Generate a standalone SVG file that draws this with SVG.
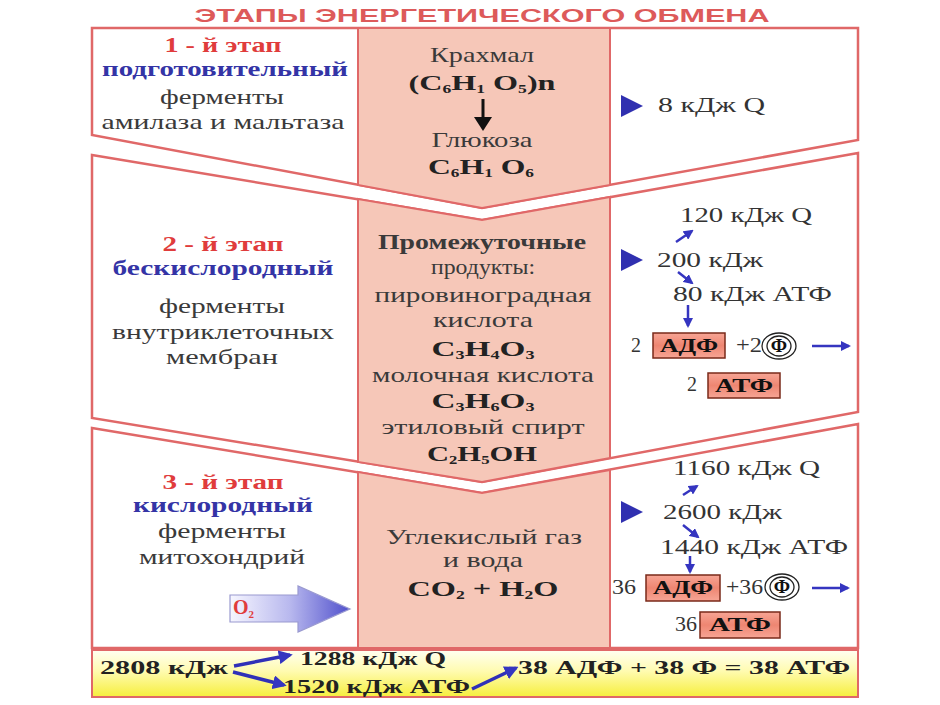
<svg xmlns="http://www.w3.org/2000/svg" width="940" height="705" viewBox="0 0 940 705">
<defs>
<style>
.st{fill:#fff;stroke:#e06868;stroke-width:2.5}
.ctr{fill:#f6c7b8;stroke:#e06868;stroke-width:2}
.t{font-family:"Liberation Serif","DejaVu Serif",serif;font-size:21px;fill:#3a3a3a;text-anchor:middle}
.red{fill:#e03c3c;font-weight:bold}
.blue{fill:#3434a6;font-weight:bold}
.f{font-weight:bold;font-size:22px;fill:#222}
.sub{font-size:12px}
.r{font-family:"Liberation Serif","DejaVu Serif",serif;font-size:20px;fill:#333}
.box{stroke:#7a2a1a;stroke-width:1.5;fill:url(#boxg)}
.bt{font-family:"Liberation Serif","DejaVu Serif",serif;font-weight:bold;font-size:19px;fill:#111;text-anchor:middle}
.ar{stroke:#3535c0;stroke-width:2.5;fill:none;marker-end:url(#ah)}
.ab{stroke:#3030b8;stroke-width:3.5;fill:none;marker-end:url(#ah)}
.tri{fill:#3030b0}
.b{font-family:"Liberation Serif","DejaVu Serif",serif;font-weight:bold;font-size:18px;fill:#222}
.ell{fill:#fff;stroke:#222;stroke-width:1.3}
</style>
<marker id="ah" viewBox="0 0 10 10" refX="8" refY="5" markerWidth="4" markerHeight="4" orient="auto"><path d="M0,0 L10,5 L0,10 z" fill="#3535c0"/></marker>
<linearGradient id="boxg" x1="0" y1="0" x2="0" y2="1"><stop offset="0" stop-color="#f7a595"/><stop offset="0.5" stop-color="#ee8672"/><stop offset="1" stop-color="#f7a595"/></linearGradient>
<linearGradient id="o2g" x1="0" y1="0" x2="1" y2="0"><stop offset="0" stop-color="#f6f6ff"/><stop offset="0.5" stop-color="#b8b8ee"/><stop offset="1" stop-color="#5050cc"/></linearGradient>
<linearGradient id="yel" x1="0" y1="0" x2="0" y2="1"><stop offset="0" stop-color="#fffff2"/><stop offset="0.45" stop-color="#fffbb0"/><stop offset="1" stop-color="#f6ee3c"/></linearGradient>
</defs>
<rect width="940" height="705" fill="#fff"/>
<text x="482" y="22" font-family="'Liberation Sans','DejaVu Sans',sans-serif" font-weight="bold" font-size="18" fill="#dd5a5a" text-anchor="middle" textLength="575" lengthAdjust="spacingAndGlyphs">ЭТАПЫ  ЭНЕРГЕТИЧЕСКОГО  ОБМЕНА</text>

<g id="stage1">
<polygon class="st" points="92,28 858,28 858,140 482,208 92,135"/>
<polygon class="ctr" points="358,28 610,28 610,185 482,208 358,185"/>
<text class="t red" x="223" y="52" textLength="117" lengthAdjust="spacingAndGlyphs">1 - й этап</text>
<text class="t blue" x="225" y="76" textLength="246" lengthAdjust="spacingAndGlyphs">подготовительный</text>
<text class="t" x="222" y="104" textLength="124" lengthAdjust="spacingAndGlyphs">ферменты</text>
<text class="t" x="223" y="129" textLength="243" lengthAdjust="spacingAndGlyphs">амилаза и мальтаза</text>
<text class="t" x="482" y="62" textLength="104" lengthAdjust="spacingAndGlyphs">Крахмал</text>
<text class="t f" x="482" y="90" textLength="147" lengthAdjust="spacingAndGlyphs">(C<tspan class="sub" dy="3">6</tspan><tspan dy="-3">H</tspan><tspan class="sub" dy="3">1</tspan><tspan dy="-3"> O</tspan><tspan class="sub" dy="3">5</tspan><tspan dy="-3">)n</tspan></text>
<text class="t" x="482" y="147" textLength="101" lengthAdjust="spacingAndGlyphs">Глюкоза</text>
<text class="t f" x="481" y="174" textLength="106" lengthAdjust="spacingAndGlyphs">C<tspan class="sub" dy="3">6</tspan><tspan dy="-3">H</tspan><tspan class="sub" dy="3">1</tspan><tspan dy="-3"> O</tspan><tspan class="sub" dy="3">6</tspan></text>
<polygon class="tri" points="621,95 643,106 621,117"/>
<text class="r" x="658" y="112" textLength="107" lengthAdjust="spacingAndGlyphs">8 кДж Q</text>
</g>

<g id="stage2">
<polygon class="st" points="92,155 482,220 858,153 858,412 482,482 92,418"/>
<polygon class="ctr" points="358,199 482,220 610,197 610,458 482,482 358,462"/>
<text class="t red" x="223" y="251" textLength="121" lengthAdjust="spacingAndGlyphs">2 - й этап</text>
<text class="t blue" x="223" y="275" textLength="221" lengthAdjust="spacingAndGlyphs">бескислородный</text>
<text class="t" x="222" y="313" textLength="126" lengthAdjust="spacingAndGlyphs">ферменты</text>
<text class="t" x="223" y="339" textLength="222" lengthAdjust="spacingAndGlyphs">внутриклеточных</text>
<text class="t" x="222" y="364" textLength="112" lengthAdjust="spacingAndGlyphs">мембран</text>
<text class="t" x="482" y="249" textLength="208" lengthAdjust="spacingAndGlyphs" font-weight="bold" fill="#2a2a2a">Промежуточные</text>
<text class="t" x="483" y="274" textLength="104" lengthAdjust="spacingAndGlyphs">продукты:</text>
<text class="t" x="483" y="302" textLength="217" lengthAdjust="spacingAndGlyphs">пировиноградная</text>
<text class="t" x="483" y="327" textLength="100" lengthAdjust="spacingAndGlyphs">кислота</text>
<text class="t f" x="483" y="356" textLength="103" lengthAdjust="spacingAndGlyphs">C<tspan class="sub" dy="3">3</tspan><tspan dy="-3">H</tspan><tspan class="sub" dy="3">4</tspan><tspan dy="-3">O</tspan><tspan class="sub" dy="3">3</tspan></text>
<text class="t" x="483" y="382" textLength="222" lengthAdjust="spacingAndGlyphs">молочная кислота</text>
<text class="t f" x="483" y="408" textLength="103" lengthAdjust="spacingAndGlyphs">C<tspan class="sub" dy="3">3</tspan><tspan dy="-3">H</tspan><tspan class="sub" dy="3">6</tspan><tspan dy="-3">O</tspan><tspan class="sub" dy="3">3</tspan></text>
<text class="t" x="483" y="434" textLength="203" lengthAdjust="spacingAndGlyphs">этиловый спирт</text>
<text class="t f" x="482" y="461" textLength="110" lengthAdjust="spacingAndGlyphs">C<tspan class="sub" dy="3">2</tspan><tspan dy="-3">H</tspan><tspan class="sub" dy="3">5</tspan><tspan dy="-3">OH</tspan></text>
<text class="r" x="680" y="222" textLength="132" lengthAdjust="spacingAndGlyphs">120 кДж Q</text>
<polygon class="tri" points="621,249 643,260 621,271"/>
<text class="r" x="657" y="267" textLength="106" lengthAdjust="spacingAndGlyphs">200 кДж</text>
<text class="r" x="673" y="301" textLength="159" lengthAdjust="spacingAndGlyphs">80 кДж АТФ</text>
<text class="r" x="631" y="352">2</text>
<rect class="box" x="653" y="333" width="72" height="25"/>
<text class="bt" x="689" y="352" textLength="58" lengthAdjust="spacingAndGlyphs">АДФ</text>
<text class="r" x="736" y="352" textLength="26" lengthAdjust="spacingAndGlyphs">+2</text>
<ellipse class="ell" cx="779" cy="346" rx="17" ry="13"/>
<ellipse class="ell" cx="779" cy="346" rx="12" ry="10"/>
<text class="bt" x="779" y="352">Ф</text>
<text class="r" x="687" y="391">2</text>
<rect class="box" x="708" y="373" width="72" height="25"/>
<text class="bt" x="744" y="392" textLength="58" lengthAdjust="spacingAndGlyphs">АТФ</text>
</g>

<g id="stage3">
<polygon class="st" points="92,428 482,493 858,424 858,648 92,648"/>
<polygon class="ctr" points="358,472 482,493 610,470 610,648 358,648"/>
<text class="t red" x="223" y="489" textLength="121" lengthAdjust="spacingAndGlyphs">3 - й этап</text>
<text class="t blue" x="223" y="512" textLength="180" lengthAdjust="spacingAndGlyphs">кислородный</text>
<text class="t" x="222" y="538" textLength="128" lengthAdjust="spacingAndGlyphs">ферменты</text>
<text class="t" x="222" y="564" textLength="166" lengthAdjust="spacingAndGlyphs">митохондрий</text>
<polygon points="230,595 298,595 298,586 350,609 298,632 298,622 230,622" fill="url(#o2g)" stroke="#9a9ad0" stroke-width="1.2"/>
<text x="233" y="614" font-family="'Liberation Serif',serif" font-weight="bold" font-size="20" fill="#e03c3c">O<tspan font-size="11" dy="4">2</tspan></text>
<text class="t" x="484" y="544" textLength="196" lengthAdjust="spacingAndGlyphs">Углекислый газ</text>
<text class="t" x="483" y="567" textLength="80" lengthAdjust="spacingAndGlyphs">и вода</text>
<text class="t f" x="483" y="596" textLength="151" lengthAdjust="spacingAndGlyphs">CO<tspan class="sub" dy="3">2</tspan><tspan dy="-3"> + H</tspan><tspan class="sub" dy="3">2</tspan><tspan dy="-3">O</tspan></text>
<text class="r" x="673" y="475" textLength="147" lengthAdjust="spacingAndGlyphs">1160 кДж Q</text>
<polygon class="tri" points="621,501 643,512 621,523"/>
<text class="r" x="663" y="519" textLength="119" lengthAdjust="spacingAndGlyphs">2600 кДж</text>
<text class="r" x="660" y="554" textLength="188" lengthAdjust="spacingAndGlyphs">1440 кДж АТФ</text>
<text class="r" x="612" y="594" textLength="24" lengthAdjust="spacingAndGlyphs">36</text>
<rect class="box" x="646" y="575" width="74" height="26"/>
<text class="bt" x="683" y="594" textLength="60" lengthAdjust="spacingAndGlyphs">АДФ</text>
<text class="r" x="726" y="594" textLength="37" lengthAdjust="spacingAndGlyphs">+36</text>
<ellipse class="ell" cx="782" cy="587" rx="17" ry="13"/>
<ellipse class="ell" cx="782" cy="587" rx="12" ry="10"/>
<text class="bt" x="782" y="593">Ф</text>
<text class="r" x="675" y="631" textLength="22" lengthAdjust="spacingAndGlyphs">36</text>
<rect class="box" x="700" y="612" width="80" height="26"/>
<text class="bt" x="740" y="631" textLength="62" lengthAdjust="spacingAndGlyphs">АТФ</text>
</g>

<g id="summary">
<rect x="92" y="650" width="766" height="47" fill="url(#yel)" stroke="#e06868" stroke-width="2"/>
<text class="b" x="100" y="674" textLength="128" lengthAdjust="spacingAndGlyphs">2808 кДж</text>
<text class="b" x="300" y="665" textLength="146" lengthAdjust="spacingAndGlyphs">1288 кДж Q</text>
<text class="b" x="283" y="693" textLength="187" lengthAdjust="spacingAndGlyphs">1520 кДж АТФ</text>
<text class="b" x="518" y="674" textLength="332" lengthAdjust="spacingAndGlyphs">38 АДФ + 38 Ф = 38 АТФ</text>
</g>

<g id="connectors">
<line x1="483" y1="99" x2="483" y2="119" stroke="#111" stroke-width="3"/>
<polygon points="474,117 492,117 483,131" fill="#111"/>
<line class="ar" x1="676" y1="242" x2="692" y2="231"/>
<line class="ar" x1="678" y1="272" x2="692" y2="283"/>
<line class="ar" x1="688" y1="305" x2="688" y2="326"/>
<line class="ar" x1="812" y1="346" x2="849" y2="346"/>
<line class="ar" x1="683" y1="495" x2="697" y2="486"/>
<line class="ar" x1="683" y1="525" x2="698" y2="537"/>
<line class="ar" x1="690" y1="556" x2="690" y2="572"/>
<line class="ar" x1="812" y1="588" x2="848" y2="588"/>
<line class="ab" x1="234" y1="666" x2="290" y2="655"/>
<line class="ab" x1="233" y1="672" x2="284" y2="685"/>
<line class="ab" x1="472" y1="689" x2="516" y2="668"/>
</g>
</svg>
